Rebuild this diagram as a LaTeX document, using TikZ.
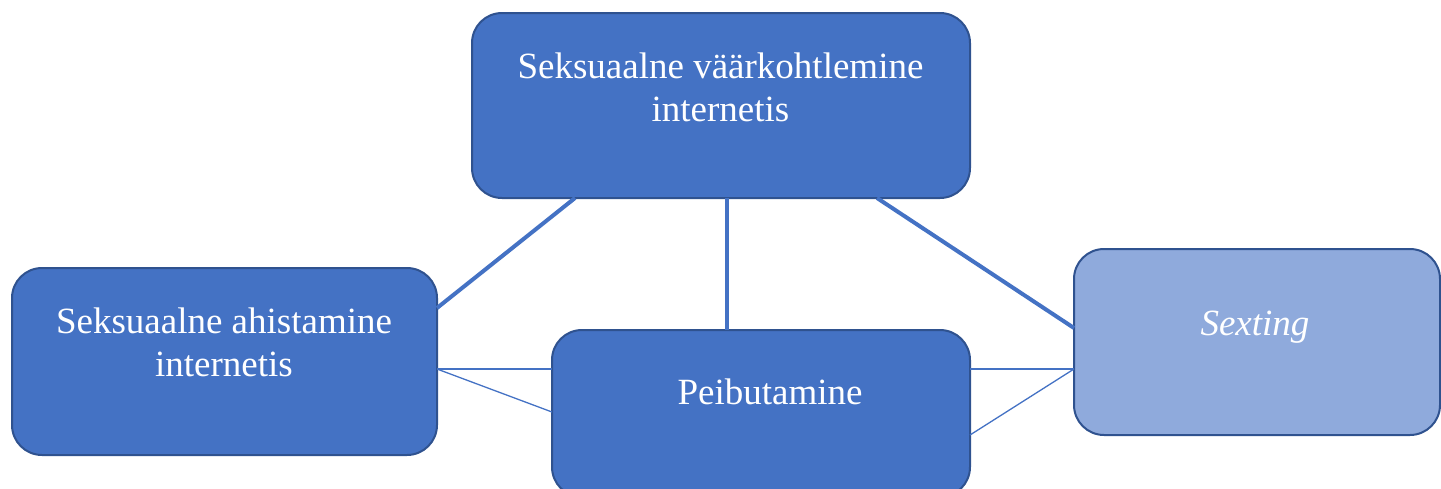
\documentclass[tikz,border=0pt]{standalone}
\usepackage{fontspec}
\setmainfont{Liberation Serif}
\usetikzlibrary{calc}
\definecolor{boxblue}{HTML}{4472C4}
\definecolor{boxedge}{HTML}{2F528F}
\definecolor{lightblue}{HTML}{8FAADC}
\begin{document}
\begin{tikzpicture}[x=1pt,y=-1pt,
  box/.style={draw=boxedge, line width=2pt, rounded corners=30pt, fill=boxblue,
    inner sep=0pt, outer sep=0pt},
  lightbox/.style={box, fill=lightblue},
  label/.style={text=white, inner sep=0pt, anchor=base,
    font=\fontsize{37}{42.5}\selectfont},
  thickline/.style={draw=boxblue, line width=4pt},
  thinline/.style={draw=boxblue, line width=1.3pt}]
\useasboundingbox (0,0) rectangle (1441,488);
\clip (0,0) rectangle (1441,488);
% boxes
\node[box, minimum width=498pt, minimum height=185pt] (top) at (721,105.5) {};
\node[box, minimum width=425pt, minimum height=187pt] (left) at (224.5,361.5) {};
\node[box, minimum width=418pt, minimum height=167pt] (mid) at (761,413.5) {};
\node[lightbox, minimum width=366pt, minimum height=186pt] (right) at (1257,342) {};
% connectors
\draw[thickline] ($(top.south west)+(103,0)$) -- ($(left.north east)+(0,40)$);
\draw[thickline] ($(top.south west)+(255,0)$) -- ($(mid.north west)+(175,0)$);
\draw[thickline] ($(top.south west)+(405,0)$) -- ($(right.north west)+(0,79)$);
\draw[thinline] ($(left.north east)+(0,101)$) -- ($(mid.north west)+(0,39)$);
\draw[thinline] ($(left.north east)+(0,101)$) -- ($(mid.north west)+(0,82)$);
\draw[thinline] ($(mid.north east)+(0,39)$) -- ($(right.north west)+(0,120)$);
\draw[thinline] ($(mid.north east)+(0,105)$) -- ($(right.north west)+(0,120)$);
% texts
\node[label] (t1) at (720.5,78) {Seksuaalne väärkohtlemine};
\node[label] (t2) at (720.5,121) {internetis};
\node[label] (l1) at (224,333.3) {Seksuaalne ahistamine};
\node[label] (l2) at (224,376.7) {internetis};
\node[label] (m1) at (770,404) {Peibutamine};
\node[label, font=\fontsize{37}{42.5}\selectfont\itshape] (r1) at (1255,335) {Sexting};
\end{tikzpicture}
\end{document}
